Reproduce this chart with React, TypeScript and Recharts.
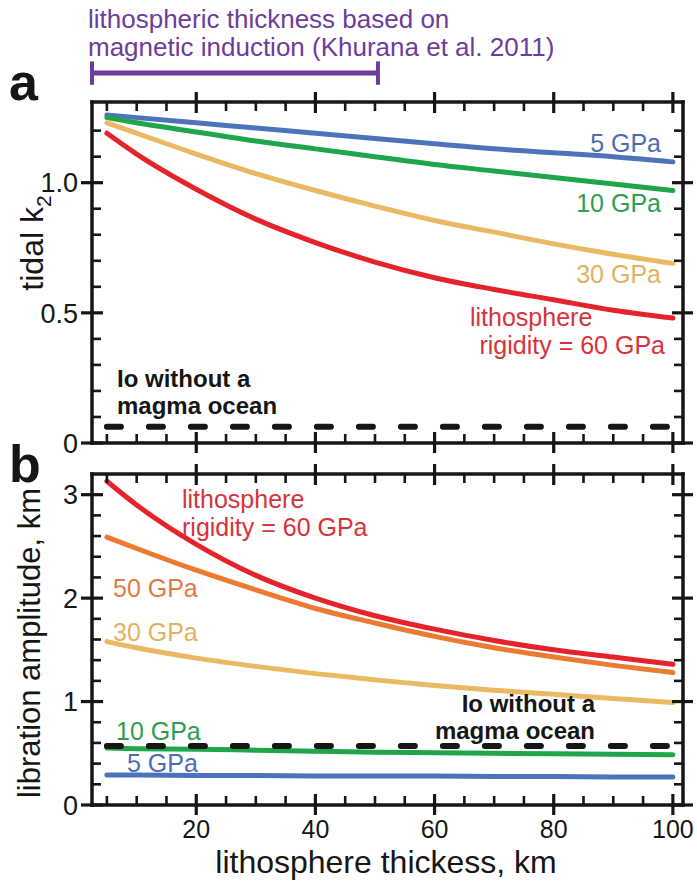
import React from "react";
import { LineChart, Line, XAxis, YAxis, ReferenceLine } from "recharts";

// ---------- data ----------
const thickness = [5, 10, 20, 30, 40, 50, 60, 70, 80, 90, 100];

const k2Rigidity5 = [1.26, 1.25, 1.23, 1.21, 1.19, 1.17, 1.15, 1.13, 1.115, 1.1, 1.08];
const k2Rigidity10 = [1.25, 1.23, 1.195, 1.16, 1.13, 1.1, 1.07, 1.045, 1.02, 0.995, 0.97];
const k2Rigidity30 = [1.23, 1.19, 1.11, 1.035, 0.97, 0.91, 0.855, 0.81, 0.765, 0.725, 0.69];
const k2Rigidity60 = [1.19, 1.11, 0.975, 0.86, 0.77, 0.695, 0.635, 0.59, 0.55, 0.51, 0.48];
const k2NoMagmaOcean = 0.062;

const libRigidity5 = [0.29, 0.29, 0.285, 0.285, 0.28, 0.28, 0.28, 0.275, 0.275, 0.27, 0.27];
const libRigidity10 = [0.55, 0.545, 0.54, 0.53, 0.52, 0.51, 0.505, 0.5, 0.495, 0.49, 0.485];
const libRigidity30 = [1.58, 1.52, 1.42, 1.34, 1.27, 1.21, 1.155, 1.11, 1.07, 1.03, 0.99];
const libRigidity50 = [2.59, 2.48, 2.27, 2.08, 1.9, 1.76, 1.63, 1.52, 1.43, 1.35, 1.28];
const libRigidity60 = [3.13, 2.9, 2.52, 2.22, 2.0, 1.83, 1.7, 1.59, 1.5, 1.43, 1.36];
const libNoMagmaOcean = 0.57;

const xTicks = [5, 10, 15, 20, 25, 30, 35, 40, 45, 50, 55, 60, 65, 70, 75, 80, 85, 90, 95, 100];
const xMajorTicks = [20, 40, 60, 80, 100];
const xTickLabels = ["20", "40", "60", "80", "100"];

const k2Ticks = [0, 0.1, 0.2, 0.3, 0.4, 0.5, 0.6, 0.7, 0.8, 0.9, 1.0, 1.1, 1.2];
const k2MajorTicks = [0, 0.5, 1.0];
const k2TickLabels = ["0", "0.5", "1.0"];

const libTicks = [0, 0.2, 0.4, 0.6, 0.8, 1, 1.2, 1.4, 1.6, 1.8, 2, 2.2, 2.4, 2.6, 2.8, 3];
const libMajorTicks = [0, 1, 2, 3];
const libTickLabels = ["0", "1", "2", "3"];

const khuranaRange = [2.5, 50.5];
const khuranaLevel = 1.421;
const khuranaCap = [1.376, 1.466];

const X_DOMAIN: [number, number] = [2.5, 101.7];
const K2_DOMAIN: [number, number] = [0, 1.31];
const LIB_DOMAIN: [number, number] = [0, 3.2];

const dataA = thickness.map((x, i) => ({
  x,
  r5: k2Rigidity5[i],
  r10: k2Rigidity10[i],
  r30: k2Rigidity30[i],
  r60: k2Rigidity60[i],
}));
const dataB = thickness.map((x, i) => ({
  x,
  r5: libRigidity5[i],
  r10: libRigidity10[i],
  r30: libRigidity30[i],
  r50: libRigidity50[i],
  r60: libRigidity60[i],
}));

// ---------- style ----------
const FONT = "'Liberation Sans', Arial, Helvetica, sans-serif";
const INK = "#161616";
const C_BLUE = "#4d74bb";
const C_GREEN = "#1fa64a";
const C_TAN = "#ebb863";
const C_RED = "#e5232a";
const C_ORANGE = "#ec7a31";
const C_PURPLE = "#6e3c9a";
const T_BLUE = "#4a6db3";
const T_GREEN = "#2d9e50";
const T_TAN = "#e2b260";
const T_RED = "#d8323a";
const T_ORANGE = "#e07a45";

const axisLineStyle = { stroke: INK, strokeWidth: 3.5, strokeLinecap: "square" as const };

function findMajor(v: number, majors: number[]) {
  return majors.findIndex((m) => Math.abs(m - v) < 1e-6);
}

function makeTick(side: "bottom" | "top" | "left" | "right", majors: number[], labels: string[] | null, fontSize: number) {
  return (props: any) => {
    const { x, y, payload } = props;
    const v = payload.value as number;
    const idx = findMajor(v, majors);
    const major = idx >= 0;
    let line: [number, number, number, number];
    if (side === "bottom") line = major ? [x, y - 11, x, y + 10] : [x, y - 9, x, y];
    else if (side === "top") line = major ? [x, y - 10, x, y + 11] : [x, y, x, y + 9];
    else if (side === "left") line = major ? [x - 11, y, x + 11, y] : [x, y, x + 9, y];
    else line = major ? [x - 11, y, x + 10, y] : [x - 9, y, x, y];
    let label: React.ReactNode = null;
    if (major && labels) {
      if (side === "bottom")
        label = (
          <text x={x} y={y + 33} textAnchor="middle" fontSize={fontSize} fontFamily={FONT} fill={INK}>
            {labels[idx]}
          </text>
        );
      else if (side === "left")
        label = (
          <text x={x - 14} y={y + fontSize * 0.36} textAnchor="end" fontSize={fontSize} fontFamily={FONT} fill={INK}>
            {labels[idx]}
          </text>
        );
    }
    return (
      <g>
        <line x1={line[0]} y1={line[1]} x2={line[2]} y2={line[3]} stroke={INK} strokeWidth={major ? 3.2 : 2.6} />
        {label}
      </g>
    );
  };
}

const seriesLine = (key: string, color: string) => (
  <Line
    key={key}
    xAxisId="b"
    yAxisId="l"
    dataKey={key}
    type="monotone"
    stroke={color}
    strokeWidth={5}
    dot={false}
    isAnimationActive={false}
    strokeLinecap="round"
  />
);

function frameAxes(yDomain: [number, number], yTicks: number[], yMajors: number[], yLabels: string[], xLabels: string[] | null) {
  return [
    <XAxis key="xb" xAxisId="b" type="number" dataKey="x" domain={X_DOMAIN} ticks={xTicks} interval={0} allowDataOverflow height={1}
      axisLine={axisLineStyle} tickLine={false} tickSize={0} tickMargin={0} tick={makeTick("bottom", xMajorTicks, xLabels, 25)} />,
    <XAxis key="xt" xAxisId="t" orientation="top" type="number" dataKey="x" domain={X_DOMAIN} ticks={xTicks} interval={0} allowDataOverflow height={1}
      axisLine={axisLineStyle} tickLine={false} tickSize={0} tickMargin={0} tick={makeTick("top", xMajorTicks, null, 25)} />,
    <YAxis key="yl" yAxisId="l" type="number" domain={yDomain} ticks={yTicks} interval={0} allowDataOverflow width={1}
      axisLine={axisLineStyle} tickLine={false} tickSize={0} tickMargin={0} tick={makeTick("left", yMajors, yLabels, 27)} />,
    <YAxis key="yr" yAxisId="r" orientation="right" type="number" domain={yDomain} ticks={yTicks} interval={0} allowDataOverflow width={1}
      axisLine={axisLineStyle} tickLine={false} tickSize={0} tickMargin={0} tick={makeTick("right", yMajors, null, 27)} />,
  ];
}

export default function App() {
  const W = 697;
  return (
    <div style={{ position: "absolute", left: 0, top: 0, width: W, height: 882, background: "#fff", overflow: "hidden" }}>
      {/* Panel a */}
      <div style={{ position: "absolute", left: 0, top: 0 }}>
        <LineChart width={W} height={460} data={dataA} margin={{ top: 101, right: 13, bottom: 16, left: 91 }}>
          {frameAxes(K2_DOMAIN, k2Ticks, k2MajorTicks, k2TickLabels, null)}
          <ReferenceLine xAxisId="b" yAxisId="l" ifOverflow="visible"
            segment={[{ x: thickness[0], y: k2NoMagmaOcean }, { x: thickness[thickness.length - 1], y: k2NoMagmaOcean }]}
            stroke={INK} strokeWidth={6} strokeDasharray="14 28" strokeLinecap="round" />
          <ReferenceLine xAxisId="b" yAxisId="l" ifOverflow="visible"
            segment={[{ x: khuranaRange[0], y: khuranaLevel }, { x: khuranaRange[1], y: khuranaLevel }]}
            stroke={C_PURPLE} strokeWidth={5} />
          <ReferenceLine xAxisId="b" yAxisId="l" ifOverflow="visible"
            segment={[{ x: khuranaRange[0], y: khuranaCap[0] }, { x: khuranaRange[0], y: khuranaCap[1] }]}
            stroke={C_PURPLE} strokeWidth={4} />
          <ReferenceLine xAxisId="b" yAxisId="l" ifOverflow="visible"
            segment={[{ x: khuranaRange[1], y: khuranaCap[0] }, { x: khuranaRange[1], y: khuranaCap[1] }]}
            stroke={C_PURPLE} strokeWidth={4} />
          {seriesLine("r5", C_BLUE)}
          {seriesLine("r10", C_GREEN)}
          {seriesLine("r30", C_TAN)}
          {seriesLine("r60", C_RED)}
        </LineChart>
      </div>

      {/* Panel b */}
      <div style={{ position: "absolute", left: 0, top: 460 }}>
        <LineChart width={W} height={422} data={dataB} margin={{ top: 13, right: 13, bottom: 76, left: 91 }}>
          {frameAxes(LIB_DOMAIN, libTicks, libMajorTicks, libTickLabels, xTickLabels)}
          {seriesLine("r5", C_BLUE)}
          {seriesLine("r10", C_GREEN)}
          <ReferenceLine xAxisId="b" yAxisId="l" ifOverflow="visible"
            segment={[{ x: thickness[0], y: libNoMagmaOcean }, { x: thickness[thickness.length - 1], y: libNoMagmaOcean }]}
            stroke={INK} strokeWidth={6} strokeDasharray="14 28" strokeLinecap="round" />
          {seriesLine("r30", C_TAN)}
          {seriesLine("r50", C_ORANGE)}
          {seriesLine("r60", C_RED)}
        </LineChart>
      </div>

      {/* text overlay */}
      <svg width={W} height={882} style={{ position: "absolute", left: 0, top: 0, pointerEvents: "none" }} fontFamily={FONT}>
        <text x={88} y={28} fontSize={26} fill={C_PURPLE}>lithospheric thickness based on</text>
        <text x={88} y={56} fontSize={26} fill={C_PURPLE}>magnetic induction (Khurana et al. 2011)</text>

        <text x={9} y={100} fontSize={52} fontWeight="bold" fill={INK}>a</text>
        <text x={9} y={482} fontSize={52} fontWeight="bold" fill={INK}>b</text>

        <text transform="translate(43,243) rotate(-90)" textAnchor="middle" fontSize={32} fill={INK}>
          tidal k<tspan fontSize={21} dy={8}>2</tspan>
        </text>
        <text transform="translate(40,643) rotate(-90)" textAnchor="middle" fontSize={31} fill={INK}>
          libration amplitude, km
        </text>
        <text x={386} y={873} textAnchor="middle" fontSize={32} fill={INK}>lithosphere thickess, km</text>

        {/* panel a annotations */}
        <text x={661} y={152} textAnchor="end" fontSize={25} fill={T_BLUE}>5 GPa</text>
        <text x={661} y={212} textAnchor="end" fontSize={25} fill={T_GREEN}>10 GPa</text>
        <text x={661} y={283} textAnchor="end" fontSize={25} fill={T_TAN}>30 GPa</text>
        <text x={470} y={326} fontSize={25} fill={T_RED}>lithosphere</text>
        <text x={665} y={354} textAnchor="end" fontSize={25} fill={T_RED}>rigidity = 60 GPa</text>
        <text x={117} y={387} fontSize={24} fontWeight="bold" fill={INK}>Io without a</text>
        <text x={117} y={414} fontSize={24} fontWeight="bold" fill={INK}>magma ocean</text>

        {/* panel b annotations */}
        <text x={182} y={508} fontSize={25} fill={T_RED}>lithosphere</text>
        <text x={182} y={536} fontSize={25} fill={T_RED}>rigidity = 60 GPa</text>
        <text x={113} y={597} fontSize={25} fill={T_ORANGE}>50 GPa</text>
        <text x={113} y={641} fontSize={25} fill={T_TAN}>30 GPa</text>
        <text x={595} y={712} textAnchor="end" fontSize={24} fontWeight="bold" fill={INK}>Io without a</text>
        <text x={595} y={739} textAnchor="end" fontSize={24} fontWeight="bold" fill={INK}>magma ocean</text>
        <text x={116} y={740} fontSize={25} fill={T_GREEN}>10 GPa</text>
        <text x={127} y={772} fontSize={25} fill={T_BLUE}>5 GPa</text>
      </svg>
    </div>
  );
}
